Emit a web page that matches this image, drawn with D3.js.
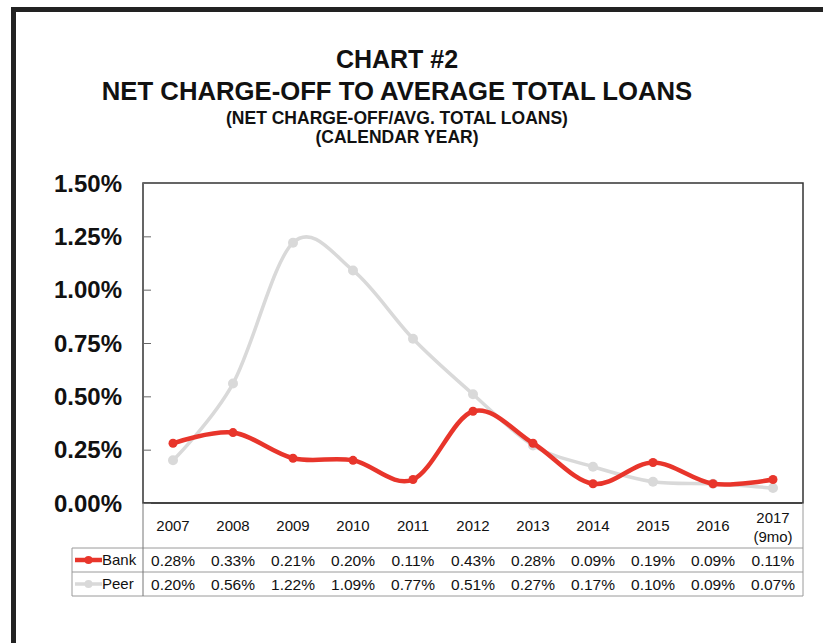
<!DOCTYPE html>
<html>
<head>
<meta charset="utf-8">
<script src="https://cdn.jsdelivr.net/npm/d3@7"></script>
<style>
  body { margin: 0; background: #fff; }
  svg { display: block; font-family: "Liberation Sans", Arial, sans-serif; }
</style>
</head>
<body>
<div id="chart"></div>
<script>
// data
const years = ["2007", "2008", "2009", "2010", "2011", "2012", "2013", "2014", "2015", "2016", "2017\n(9mo)"];
const bank = [0.28, 0.33, 0.21, 0.20, 0.11, 0.43, 0.28, 0.09, 0.19, 0.09, 0.11];
const peer = [0.20, 0.56, 1.22, 1.09, 0.77, 0.51, 0.27, 0.17, 0.10, 0.09, 0.07];
const yTicks = [0, 0.25, 0.5, 0.75, 1.0, 1.25, 1.5];
const titleLines = ["CHART #2", "NET CHARGE-OFF TO AVERAGE TOTAL LOANS"];
const subLines = ["(NET CHARGE-OFF/AVG. TOTAL LOANS)", "(CALENDAR YEAR)"];

const series = [
  { name: "Bank", values: bank, color: "#e8352b", width: 4.5, r: 4.5 },
  { name: "Peer", values: peer, color: "#d9d9d9", width: 3.5, r: 5 }
];

const width = 823, height = 643;
const plot = { left: 143, top: 183, right: 803, bottom: 503 };

const svg = d3.select("#chart").append("svg")
  .attr("width", width).attr("height", height);

// outer frame (left + top only visible)
svg.append("path")
  .attr("d", `M13.5,${height} V9.5 H${width}`)
  .attr("fill", "none").attr("stroke", "#222").attr("stroke-width", 5);

// titles
svg.selectAll(".title").data(titleLines).join("text")
  .attr("x", 397).attr("y", (d, i) => 68 + i * 32)
  .attr("text-anchor", "middle").attr("font-weight", "bold")
  .attr("font-size", (d, i) => i === 0 ? 25 : 25.7).attr("fill", "#111").text(d => d);

svg.selectAll(".sub").data(subLines).join("text")
  .attr("x", 397).attr("y", (d, i) => 124 + i * 19)
  .attr("text-anchor", "middle").attr("font-weight", "bold")
  .attr("font-size", 17.5).attr("fill", "#111").text(d => d);

// scales
const x = d3.scaleBand().domain(years).range([plot.left, plot.right]);
const y = d3.scaleLinear().domain([0, 1.5]).range([plot.bottom, plot.top]);

// plot border
svg.append("rect")
  .attr("x", plot.left).attr("y", plot.top)
  .attr("width", plot.right - plot.left).attr("height", plot.bottom - plot.top)
  .attr("fill", "none").attr("stroke", "#333").attr("stroke-width", 1.5);
svg.append("line")
  .attr("x1", plot.left).attr("x2", plot.right)
  .attr("y1", plot.bottom).attr("y2", plot.bottom)
  .attr("stroke", "#444").attr("stroke-width", 2);

// y axis (ticks inside)
const yAxis = svg.append("g")
  .attr("transform", `translate(${plot.left},0)`)
  .call(d3.axisRight(y).tickValues(yTicks).tickSize(8).tickFormat(""));
yAxis.select(".domain").remove();
yAxis.selectAll("line").attr("stroke", "#666");

svg.selectAll(".ylab").data(yTicks).join("text")
  .attr("x", 122).attr("y", d => y(d)).attr("dy", "0.36em")
  .attr("text-anchor", "end").attr("font-weight", "bold")
  .attr("font-size", 24).attr("fill", "#111")
  .text(d => d.toFixed(2) + "%");

// lines
const cx = (d, i) => x(years[i]) + x.bandwidth() / 2;
const line = d3.line().x(cx).y(d => y(d)).curve(d3.curveCatmullRom.alpha(0));

[series[1], series[0]].forEach(s => {
  svg.append("path").datum(s.values)
    .attr("d", line).attr("fill", "none")
    .attr("stroke", s.color).attr("stroke-width", s.width)
    .attr("stroke-linejoin", "round");
  svg.selectAll(null).data(s.values).join("circle")
    .attr("cx", cx).attr("cy", d => y(d)).attr("r", s.r)
    .attr("fill", s.color);
});

// category labels
const cats = svg.selectAll(".cat").data(years).join("text")
  .attr("text-anchor", "middle").attr("font-size", 15).attr("fill", "#111")
  .attr("transform", d => `translate(${x(d) + x.bandwidth() / 2},0)`);
cats.each(function (d) {
  const parts = d.split("\n");
  const t = d3.select(this);
  parts.forEach((p, k) => {
    t.append("tspan").attr("x", 0)
      .attr("y", parts.length === 1 ? 531 : 523 + k * 19)
      .text(p);
  });
});

// data table
const tbl = { left: 72, top: 548, rowH: 24 };
const tg = svg.append("g");
const gridColor = "#9a9a9a";

[0, 1, 2].forEach(i => {
  tg.append("line")
    .attr("x1", tbl.left).attr("x2", plot.right)
    .attr("y1", tbl.top + i * tbl.rowH).attr("y2", tbl.top + i * tbl.rowH)
    .attr("stroke", gridColor).attr("stroke-width", 1);
});
tg.append("line")
  .attr("x1", tbl.left).attr("x2", tbl.left)
  .attr("y1", tbl.top).attr("y2", tbl.top + 2 * tbl.rowH)
  .attr("stroke", gridColor);
tg.append("line")
  .attr("x1", plot.left).attr("x2", plot.left)
  .attr("y1", plot.bottom).attr("y2", tbl.top + 2 * tbl.rowH)
  .attr("stroke", "#777");
tg.append("line")
  .attr("x1", plot.right).attr("x2", plot.right)
  .attr("y1", plot.bottom).attr("y2", tbl.top + 2 * tbl.rowH)
  .attr("stroke", gridColor);

series.forEach((s, i) => {
  const rowY = tbl.top + i * tbl.rowH + tbl.rowH / 2;
  tg.append("line")
    .attr("x1", 75).attr("x2", 102).attr("y1", rowY).attr("y2", rowY)
    .attr("stroke", s.color).attr("stroke-width", s.width);
  tg.append("circle").attr("cx", 88.5).attr("cy", rowY).attr("r", 4)
    .attr("fill", s.color);
  tg.append("text").attr("x", 102).attr("y", rowY).attr("dy", "0.36em")
    .attr("font-size", 15).attr("fill", "#111").text(s.name);
  tg.selectAll(null).data(s.values).join("text")
    .attr("x", cx).attr("y", rowY).attr("dy", "0.36em")
    .attr("text-anchor", "middle").attr("font-size", 15.5).attr("fill", "#111")
    .text(d => d.toFixed(2) + "%");
});
</script>
</body>
</html>
